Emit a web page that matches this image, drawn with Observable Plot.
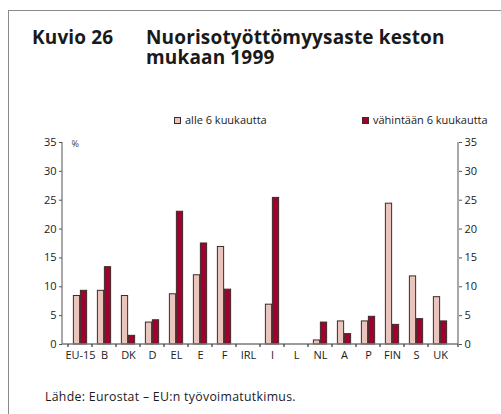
<!DOCTYPE html>
<html><head><meta charset="utf-8">
<script src="https://cdn.jsdelivr.net/npm/d3@7"></script>
<script src="https://cdn.jsdelivr.net/npm/@observablehq/plot@0.6"></script>
<style>
body{margin:0;background:#fff;font-family:"Open Sans",sans-serif;color:#1a1a1a;width:501px;height:414px;overflow:hidden;position:relative;}
#border{position:absolute;left:8px;top:10px;width:500px;height:410px;border-left:1.5px solid #8a8a8a;border-top:1.5px solid #8a8a8a;}
.t{position:absolute;font-weight:700;font-size:19px;line-height:19px;white-space:nowrap;letter-spacing:0.15px;}
#leg{position:absolute;top:113px;left:0;font-size:11px;}
.li{position:absolute;white-space:nowrap;display:flex;align-items:center;line-height:14px;}
.sw{display:inline-block;width:7px;height:7px;border:1px solid #3b2b2b;margin-right:4px;box-sizing:border-box;}
#chart{position:absolute;left:0;top:130px;}
#cap{position:absolute;left:45px;top:389px;font-size:12.3px;letter-spacing:0.3px;line-height:16px;white-space:nowrap;}
</style></head>
<body>
<div id="border"></div>
<div class="t" style="left:32px;top:28px;">Kuvio 26</div>
<div class="t" style="left:146px;top:28px;">Nuorisotyöttömyysaste keston</div>
<div class="t" style="left:146px;top:48px;">mukaan 1999</div>
<div id="leg"></div>
<div id="chart"></div>
<div id="cap">Lähde: Eurostat – EU:n työvoimatutkimus.</div>
<script>
const countries = ["EU-15","B","DK","D","EL","E","F","IRL","I","L","NL","A","P","FIN","S","UK"];
const under6 = [8.4,9.3,8.4,3.8,8.7,12.0,16.9,null,6.9,null,0.7,4.0,4.0,24.4,11.8,8.2];
const over6  = [9.3,13.4,1.5,4.2,23.0,17.5,9.5,null,25.4,null,3.8,1.8,4.8,3.4,4.4,4.0];
const seriesNames = ["alle 6 kuukautta","vähintään 6 kuukautta"];
const seriesColors = ["#ebc4be","#a3002f"];
const yTicks = [0,5,10,15,20,25,30,35];
const unitLabel = "%";

const W = 501, H = 240, ML = 62, MR = 43, MT = 12, MB = 26;
const bw = (W - ML - MR) / countries.length;
const barW = 7;

const d1 = countries.map((c,i)=>({c, v: under6[i]})).filter(d=>d.v!=null);
const d2 = countries.map((c,i)=>({c, v: over6[i]})).filter(d=>d.v!=null);

const axisLines = (index, scales, values, dims) => {
  const g = d3.create("svg:g").attr("stroke","#7a7a7a").attr("stroke-width",1.3).attr("fill","none");
  const x0 = dims.marginLeft, x1 = dims.width - dims.marginRight;
  const y0 = scales.y(0), yTop = scales.y(yTicks[yTicks.length-1]);
  g.append("line").attr("x1",x0).attr("x2",x0).attr("y1",y0).attr("y2",yTop);
  g.append("line").attr("x1",x1).attr("x2",x1).attr("y1",y0).attr("y2",yTop);
  g.append("line").attr("x1",x0).attr("x2",x1).attr("y1",y0).attr("y2",y0);
  const edges = countries.map(c=>scales.x(c)).concat([x1]);
  for (const e of edges) g.append("line").attr("x1",e).attr("x2",e).attr("y1",y0).attr("y2",y0+3).attr("stroke","#444");
  return g.node();
};

const plot = Plot.plot({
  width: W, height: H,
  marginLeft: ML, marginRight: MR, marginTop: MT, marginBottom: MB,
  style: {fontFamily: "Open Sans, sans-serif", fontSize: "11px", color: "#1a1a1a", background: "transparent"},
  x: {domain: countries, padding: 0, axis: null},
  y: {domain: [0, 35], axis: null},
  marks: [
    Plot.barY(d1, {x: "c", y: "v", fill: seriesColors[0], stroke: "#3b2b2b", strokeWidth: 1, insetLeft: bw/2 - barW, insetRight: bw/2}),
    Plot.barY(d2, {x: "c", y: "v", fill: seriesColors[1], stroke: "#3b2b2b", strokeWidth: 1, insetLeft: bw/2, insetRight: bw/2 - barW}),
    axisLines,
    Plot.axisY({anchor: "left", ticks: yTicks, tickSize: 3, tickPadding: 3, label: null, stroke: "#555"}),
    Plot.axisY({anchor: "right", ticks: yTicks, tickSize: 3, tickPadding: 3, label: null, stroke: "#555"}),
    Plot.axisX({anchor: "bottom", tickSize: 0, tickPadding: 7, label: null}),
    Plot.text([unitLabel], {frameAnchor: "top-left", dx: 9, dy: -2, fontSize: 9, fill: "#444"})
  ]
});
document.getElementById("chart").appendChild(plot);

const leg = document.getElementById("leg");
const legX = [174, 362];
seriesNames.forEach((n,i)=>{
  const d = document.createElement("div");
  d.className = "li";
  d.style.left = legX[i] + "px";
  d.innerHTML = `<span class="sw" style="background:${seriesColors[i]}"></span>${n}`;
  leg.appendChild(d);
});
</script>
</body></html>
